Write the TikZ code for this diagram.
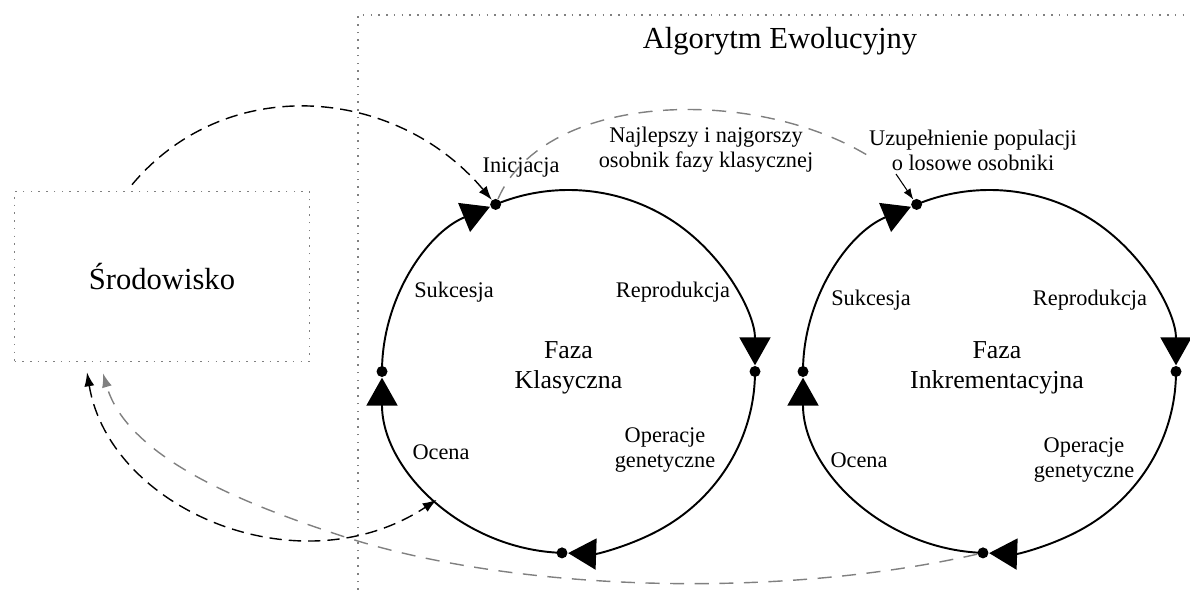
\documentclass[tikz,border=0pt]{standalone}
\usepackage{fontspec}
\setmainfont{Liberation Serif}
\usetikzlibrary{positioning,arrows.meta}

\begin{document}
\begin{tikzpicture}[>={Latex[length=0.28cm,width=0.2cm]},
    cycle/.style={line width=1.1pt, -{Triangle[length=0.56cm,width=0.62cm]}, shorten >=3.5pt},
    phasedot/.style={circle, fill=black, inner sep=0pt, minimum size=0.22cm},
    lbl/.style={font=\fontsize{12.7}{14.2}\selectfont, align=center, inner sep=0pt},
    phaselbl/.style={font=\fontsize{14.7}{17}\selectfont, align=center, inner sep=0pt},
    biglbl/.style={font=\fontsize{17.4}{20}\selectfont, inner sep=0pt},
    flow/.style={dash pattern=on 7pt off 4pt, line width=0.8pt},
    greyflow/.style={black!50, dash pattern=on 8pt off 6pt, line width=0.8pt},
    dotframe/.style={draw=black!50, dash pattern=on 0.9pt off 3.5pt, line width=0.9pt}]
    \useasboundingbox (0,0) rectangle (23.8,11.8);
    % Frame: Algorytm Ewolucyjny
    \draw[dotframe] (7.16,0) -- (7.16,11.5) -- (23.8,11.5);
    \node[biglbl] (algo) at (15.6,10.98) {Algorytm Ewolucyjny};
    % Rectangle: Srodowisko
    \node[dotframe, minimum width=5.9cm, minimum height=3.4cm, biglbl] (env) at (3.24,6.27) {Środowisko};
    % Circle: Faza Klasyczna
    \coordinate (c1) at (11.37,4.37);
    \path (c1) ++(113:3.73 and 3.63) node[phasedot] (k1top) {};
    \path (c1) ++(0:3.73 and 3.63) node[phasedot] (k1right) {};
    \path (c1) ++(268:3.73 and 3.63) node[phasedot] (k1bot) {};
    \path (c1) ++(180:3.73 and 3.63) node[phasedot] (k1left) {};
    \path (c1) ++(225:3.73 and 3.63) coordinate (k1eval);
    \draw[cycle] (k1left.center) arc[start angle=180, end angle=113, x radius=3.73cm, y radius=3.63cm];
    \draw[cycle] (k1top.center) arc[start angle=113, end angle=0, x radius=3.73cm, y radius=3.63cm];
    \draw[cycle] (k1right.center) arc[start angle=0, end angle=-92, x radius=3.73cm, y radius=3.63cm];
    \draw[cycle] (k1bot.center) arc[start angle=268, end angle=180, x radius=3.73cm, y radius=3.63cm];
    \node[lbl] (inic) at (10.42,8.46) {Inicjacja};
    \node[lbl] (suk1) at (9.08,5.96) {Sukcesja};
    \node[lbl] (rep1) at (13.46,5.96) {Reprodukcja};
    \node[phaselbl] (faza1) at (11.37,4.44) {Faza\\Klasyczna};
    \node[lbl] (oper1) at (13.3,2.8) {Operacje\\genetyczne};
    \node[lbl] (oc1) at (8.82,2.76) {Ocena};
    % Circle: Faza Inkrementacyjna
    \coordinate (c2) at (19.79,4.37);
    \path (c2) ++(113:3.73 and 3.63) node[phasedot] (k2top) {};
    \path (c2) ++(0:3.73 and 3.63) node[phasedot] (k2right) {};
    \path (c2) ++(268:3.73 and 3.63) node[phasedot] (k2bot) {};
    \path (c2) ++(180:3.73 and 3.63) node[phasedot] (k2left) {};
    \draw[cycle] (k2left.center) arc[start angle=180, end angle=113, x radius=3.73cm, y radius=3.63cm];
    \draw[cycle] (k2top.center) arc[start angle=113, end angle=0, x radius=3.73cm, y radius=3.63cm];
    \draw[cycle] (k2right.center) arc[start angle=0, end angle=-92, x radius=3.73cm, y radius=3.63cm];
    \draw[cycle] (k2bot.center) arc[start angle=268, end angle=180, x radius=3.73cm, y radius=3.63cm];
    \node[lbl] (suk2) at (17.42,5.8) {Sukcesja};
    \node[lbl] (rep2) at (21.8,5.8) {Reprodukcja};
    \node[phaselbl] (faza2) at (19.94,4.44) {Faza\\Inkrementacyjna};
    \node[lbl] (oper2) at (21.68,2.6) {Operacje\\genetyczne};
    \node[lbl] (oc2) at (17.18,2.6) {Ocena};
    % Texts over the circles
    \node[lbl] (best) at (14.12,8.8) {Najlepszy i najgorszy\\osobnik fazy klasycznej};
    \node[lbl] (fill) at (19.46,8.8) {Uzupełnienie populacji\\o losowe osobniki};
    \coordinate (bestIn) at (17.5,8.6);
    \coordinate (fillOut) at (17.92,8.32);
    % Arrows
    \draw[flow,->] ([xshift=-0.6cm,yshift=0.12cm]env.north) to[out=50,in=130,looseness=1.05] (k1top);
    \draw[flow,<->] ([xshift=-1.5cm,yshift=-0.2cm]env.south) .. controls (2.2,1.6) and (6.0,0.0) .. (k1eval);
    \draw[greyflow,->] (k2bot) .. controls (15.5,-0.2) and (10.23,-0.02) .. (6.9,1.06) .. controls (5.0,1.68) and (2.56,2.61) .. ([xshift=-1.18cm,yshift=-0.22cm]env.south);
    \draw[greyflow] (k1top) .. controls (10.9,10.0) and (15.2,10.1) .. (bestIn);
    \draw[-{Latex[length=0.22cm,width=0.16cm]}, line width=0.6pt] (fillOut) -- (k2top);
\end{tikzpicture}
\end{document}
